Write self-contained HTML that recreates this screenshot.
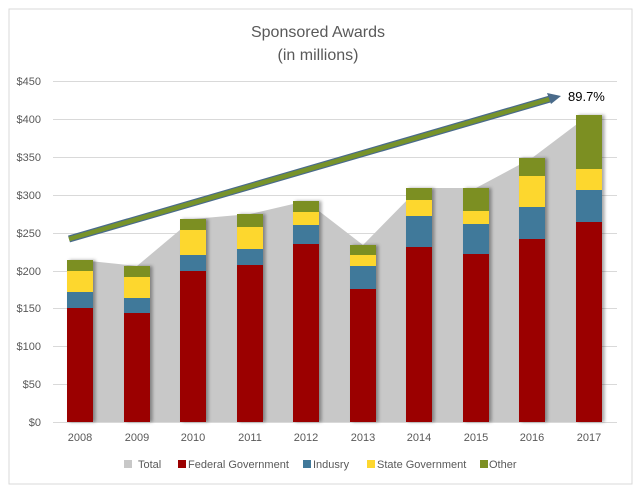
<!DOCTYPE html>
<html><head><meta charset="utf-8"><style>
html,body{margin:0;padding:0;background:#fff}
svg text{font-family:"Liberation Sans",sans-serif}
</style></head><body>
<svg width="636" height="492" viewBox="0 0 636 492" xmlns="http://www.w3.org/2000/svg">
<defs>
<filter id="sh" x="-20%" y="-5%" width="150%" height="110%"><feDropShadow dx="2.5" dy="0" stdDeviation="1.5" flood-color="#000" flood-opacity="0.35"/></filter>
</defs>
<rect x="9" y="9" width="623" height="475" fill="#fff" stroke="#d9d9d9" stroke-width="1"/>
<text x="318" y="37" font-size="16" fill="#595959" text-anchor="middle">Sponsored Awards</text>
<text x="318" y="60" font-size="16" fill="#595959" text-anchor="middle">(in millions)</text>
<g stroke="#d9d9d9" stroke-width="1">
<line x1="53" x2="617" y1="81.5" y2="81.5"/><line x1="53" x2="617" y1="119.5" y2="119.5"/>
<line x1="53" x2="617" y1="157.5" y2="157.5"/><line x1="53" x2="617" y1="195.5" y2="195.5"/>
<line x1="53" x2="617" y1="233.5" y2="233.5"/><line x1="53" x2="617" y1="271.5" y2="271.5"/>
<line x1="53" x2="617" y1="308.5" y2="308.5"/><line x1="53" x2="617" y1="346.5" y2="346.5"/>
<line x1="53" x2="617" y1="384.5" y2="384.5"/><line x1="53" x2="617" y1="422.5" y2="422.5"/>
</g>
<g font-size="11" fill="#595959" text-anchor="end">
<text x="41" y="85">$450</text><text x="41" y="123">$400</text><text x="41" y="161">$350</text>
<text x="41" y="199">$300</text><text x="41" y="237">$250</text><text x="41" y="275">$200</text>
<text x="41" y="312">$150</text><text x="41" y="350">$100</text><text x="41" y="388">$50</text>
<text x="41" y="426">$0</text>
</g>
<polygon fill="#c8c8c8" points="80,422 80,260 137,266 193,219 250,214 306,201 363,245 419,188 476,188 532,158 589,115 589,422"/>
<g id="bars" filter="url(#sh)"></g>
<g font-size="11" fill="#595959" text-anchor="middle">
<text x="80" y="441">2008</text><text x="137" y="441">2009</text><text x="193" y="441">2010</text>
<text x="250" y="441">2011</text><text x="306" y="441">2012</text><text x="363" y="441">2013</text>
<text x="419" y="441">2014</text><text x="476" y="441">2015</text><text x="532" y="441">2016</text>
<text x="589" y="441">2017</text>
</g>
<line x1="69" y1="239" x2="550" y2="99" stroke="#4a6b8a" stroke-width="7"/>
<line x1="69" y1="239" x2="550" y2="99" stroke="#77932a" stroke-width="4.5"/>
<polygon points="561,96 547,93 551,104" fill="#4a6b8a"/>
<text x="568" y="101" font-size="13" fill="#000">89.7%</text>
<g font-size="11" fill="#595959">
<rect x="124" y="460" width="8" height="8" fill="#c8c8c8"/><text x="138" y="468">Total</text>
<rect x="178" y="460" width="8" height="8" fill="#9b0000"/><text x="188" y="468">Federal Government</text>
<rect x="303" y="460" width="8" height="8" fill="#41799a"/><text x="313" y="468">Indusry</text>
<rect x="367" y="460" width="8" height="8" fill="#fdd72f"/><text x="377" y="468">State Government</text>
<rect x="480" y="460" width="8" height="8" fill="#7c8f23"/><text x="489" y="468">Other</text>
</g>
<script>
var d=[[80,308,292,271,260],[137,313,298,277,266],[193,271,255,230,219],[250,265,249,227,214],[306,244,225,212,201],[363,289,266,255,245],[419,247,216,200,188],[476,254,224,211,188],[532,239,207,176,158],[589,222,190,169,115]];
var c=["#9b0000","#41799a","#fdd72f","#7c8f23"];var g=document.getElementById("bars");var ns="http://www.w3.org/2000/svg";
d.forEach(function(b){var bot=422;for(var i=0;i<4;i++){var r=document.createElementNS(ns,"rect");r.setAttribute("x",b[0]-13);r.setAttribute("width",26);r.setAttribute("y",b[i+1]);r.setAttribute("height",bot-b[i+1]);r.setAttribute("fill",c[i]);g.appendChild(r);bot=b[i+1];}});
</script>
</svg>
</body></html>
